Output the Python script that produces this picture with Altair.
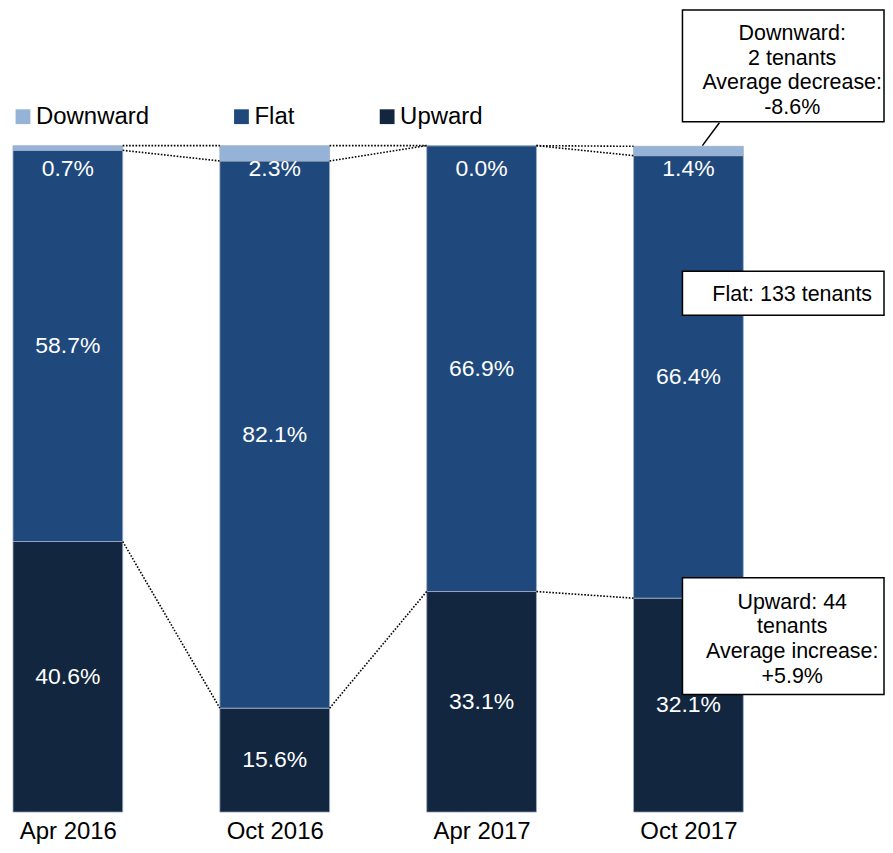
import json
import altair as alt
import pandas as pd

# ---- data ----
periods = ["Apr 2016", "Oct 2016", "Apr 2017", "Oct 2017"]
series = ["Downward", "Flat", "Upward"]
upward = [40.6, 15.6, 33.1, 32.1]
flat = [58.7, 82.1, 66.9, 66.4]
downward = [0.7, 2.3, 0.0, 1.4]
colors = ["#95B3D7", "#1F497D", "#12263F"]

ann_down = ["Downward:", "2 tenants", "Average decrease:", "-8.6%"]
ann_flat = ["Flat: 133 tenants"]
ann_up = ["Upward: 44", "tenants", "Average increase:", "+5.9%"]

# ---- layout constants ----
FONT = "Liberation Sans"
W, H = 877, 805
HW = 0.2653            # half bar width in index units
XMIN, XMAX = -0.2894, 3.9406
YMAX = 120.51

rows = []
for i, p in enumerate(periods):
    base = 0.0
    for s, vals in (("Upward", upward), ("Flat", flat), ("Downward", downward)):
        v = vals[i]
        rows.append(dict(idx=i, period=p, series=s, value=v, lo=base, hi=base + v,
                         x0=i - HW, x1=i + HW, mid=base + v / 2,
                         label=f"{v:.1f}%"))
        base += v
seg = pd.DataFrame(rows)

conn = []
for i in range(len(periods) - 1):
    la = [upward[i], upward[i] + flat[i], upward[i] + flat[i] + downward[i]]
    lb = [upward[i + 1], upward[i + 1] + flat[i + 1],
          upward[i + 1] + flat[i + 1] + downward[i + 1]]
    for a, b in zip(la, lb):
        conn.append(dict(xa=i + HW, xb=i + 1 - HW, ya=a, yb=b))
conn = pd.DataFrame(conn)

xscale = alt.Scale(domain=[XMIN, XMAX], nice=False, zero=False)
yscale = alt.Scale(domain=[0, YMAX], nice=False, zero=True)

label_expr = json.dumps(periods) + "[datum.value]"

bars = alt.Chart(seg).mark_rect(stroke="#9FB0C6", strokeWidth=0.8).encode(
    x=alt.X("x0:Q", scale=xscale,
            axis=alt.Axis(values=list(range(len(periods))), labelExpr=label_expr,
                          ticks=False, domain=False, grid=False, title=None,
                          labelFont=FONT, labelFontSize=24, labelColor="black",
                          labelPadding=7, labelFlush=False)),
    x2="x1:Q",
    y=alt.Y("lo:Q", scale=yscale, axis=None),
    y2="hi:Q",
    color=alt.Color("series:N",
                    scale=alt.Scale(domain=series, range=colors),
                    legend=alt.Legend(orient="none", legendX=3, legendY=96,
                                      direction="horizontal", title=None,
                                      symbolType="square", symbolSize=220,
                                      symbolStrokeWidth=0, symbolOpacity=1,
                                      labelFont=FONT, labelFontSize=24,
                                      labelColor="black", labelOffset=1,
                                      columnPadding=80, padding=0)),
)

xc = alt.X("idx:Q", scale=xscale)

labels_main = alt.Chart(seg).transform_filter(
    alt.datum.series != "Downward"
).mark_text(font=FONT, fontSize=23, color="white", baseline="middle").encode(
    x=xc, y=alt.Y("mid:Q", scale=yscale), text="label:N")

labels_down = alt.Chart(seg).transform_filter(
    alt.datum.series == "Downward"
).mark_text(font=FONT, fontSize=23, color="white", baseline="middle", dy=23).encode(
    x=xc, y=alt.Y("hi:Q", scale=yscale), text="label:N")

connectors = alt.Chart(conn).mark_rule(color="black", strokeWidth=1.6,
                                        strokeDash=[1.6, 1.6]).encode(
    x=alt.X("xa:Q", scale=xscale), x2="xb:Q",
    y=alt.Y("ya:Q", scale=yscale), y2="yb:Q")

one = pd.DataFrame({"k": [0]})


def box(y0, y1):
    return alt.Chart(one).mark_rect(fill="white", stroke="black", strokeWidth=1.5).encode(
        x=alt.value(676), x2=alt.value(878), y=alt.value(y0), y2=alt.value(y1))


def btext(lines, cx, cy):
    return alt.Chart(one).mark_text(text=lines, font=FONT, fontSize=21.5, color="black",
                                    lineHeight=24.7, baseline="middle",
                                    align="center").encode(
        x=alt.value(cx), y=alt.value(cy))


leader = alt.Chart(one).mark_rule(color="black", strokeWidth=1.5).encode(
    x=alt.value(713), x2=alt.value(696), y=alt.value(114), y2=alt.value(137))

chart = alt.layer(
    bars, connectors, labels_main, labels_down,
    leader,
    box(1, 113), btext(ann_down, 786, 25),
    box(263, 307), btext(ann_flat, 786, 287),
    box(570, 687), btext(ann_up, 786, 595),
).properties(width=W, height=H, padding=0).configure_view(stroke=None)

chart.save("out.html", embed_options={"renderer": "svg", "actions": False})
